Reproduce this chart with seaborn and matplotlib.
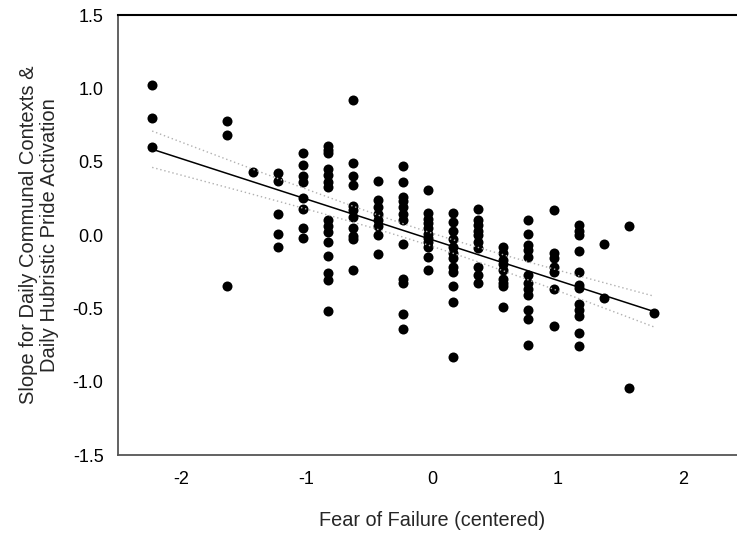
import numpy as np
import pandas as pd
import matplotlib
matplotlib.use("Agg")
import matplotlib.pyplot as plt
import seaborn as sns

# ---- data (one line per fear-of-failure level) ----
fear = (
    [-2.23] * 3 +
    [-1.63] * 3 +
    [-1.43] * 1 +
    [-1.23] * 5 +
    [-1.03] * 8 +
    [-0.83] * 15 +
    [-0.63] * 11 +
    [-0.43] * 8 +
    [-0.23] * 12 +
    [-0.03] * 11 +
    [0.17] * 12 +
    [0.37] * 10 +
    [0.57] * 9 +
    [0.77] * 12 +
    [0.97] * 7 +
    [1.17] * 12 +
    [1.37] * 2 +
    [1.57] * 2 +
    [1.77] * 1
)
slope = (
    [1.02, 0.80, 0.60] +
    [0.78, 0.68, -0.35] +
    [0.43] +
    [0.42, 0.37, 0.14, 0.01, -0.08] +
    [0.56, 0.48, 0.40, 0.36, 0.25, 0.18, 0.05, -0.02] +
    [0.61, 0.58, 0.56, 0.45, 0.41, 0.36, 0.33, 0.10, 0.06, 0.02, -0.05, -0.14, -0.26, -0.31, -0.52] +
    [0.92, 0.49, 0.40, 0.34, 0.20, 0.17, 0.12, 0.05, -0.01, -0.03, -0.24] +
    [0.37, 0.24, 0.19, 0.14, 0.10, 0.06, 0.00, -0.13] +
    [0.47, 0.36, 0.26, 0.23, 0.19, 0.14, 0.10, -0.06, -0.30, -0.33, -0.54, -0.64] +
    [0.31, 0.15, 0.11, 0.08, 0.05, 0.01, -0.02, -0.05, -0.08, -0.15, -0.24] +
    [0.15, 0.09, 0.03, -0.03, -0.08, -0.12, -0.16, -0.22, -0.25, -0.35, -0.46, -0.83] +
    [0.18, 0.10, 0.07, 0.03, 0.00, -0.05, -0.09, -0.22, -0.27, -0.33] +
    [-0.08, -0.12, -0.17, -0.20, -0.24, -0.30, -0.33, -0.35, -0.49] +
    [0.10, 0.01, -0.07, -0.10, -0.15, -0.27, -0.33, -0.37, -0.41, -0.51, -0.57, -0.75] +
    [0.17, -0.12, -0.16, -0.22, -0.25, -0.37, -0.62] +
    [0.07, 0.03, 0.00, -0.11, -0.25, -0.34, -0.36, -0.47, -0.51, -0.55, -0.67, -0.76] +
    [-0.06, -0.43] +
    [0.06, -1.04] +
    [-0.53]
)
x_ticks = [-2, -1, 0, 1, 2]
y_ticks = [-1.5, -1.0, -0.5, 0.0, 0.5, 1.0, 1.5]
y_ticklabels = ["-1.5", "-1.0", "-0.5", "0.0", "0.5", "1.0", "1.5"]
x_label = "Fear of Failure (centered)"
y_label = "Slope for Daily Communal Contexts &\nDaily Hubristic Pride Activation"

df = pd.DataFrame({"fear": fear, "slope": slope})

sns.set_style("white")
plt.rcParams["font.family"] = ["Liberation Sans", "DejaVu Sans"]

fig = plt.figure(figsize=(7.37, 5.34), dpi=100)
ax = fig.add_axes([0.1605, 0.1479, 0.851, 0.824])

sns.regplot(data=df, x="fear", y="slope", ax=ax, ci=None, truncate=True,
            scatter_kws=dict(s=52, color="black", linewidths=0, alpha=1),
            line_kws=dict(color="black", linewidth=1.1))

# 95% confidence limits of the fitted line, drawn as dotted lines
x = df["fear"].to_numpy()
y = df["slope"].to_numpy()
n = len(x)
b1, b0 = np.polyfit(x, y, 1)
resid = y - (b0 + b1 * x)
s = np.sqrt(np.sum(resid ** 2) / (n - 2))
xbar = x.mean()
sxx = np.sum((x - xbar) ** 2)
xs = np.linspace(x.min(), x.max(), 100)
fit = b0 + b1 * xs
se = s * np.sqrt(1.0 / n + (xs - xbar) ** 2 / sxx)
tcrit = 1.977
ax.plot(xs, fit + tcrit * se, color="#b0b0b0", linewidth=1.0, linestyle=(0, (1, 2)))
ax.plot(xs, fit - tcrit * se, color="#b0b0b0", linewidth=1.0, linestyle=(0, (1, 2)))

ax.set_xlim(-2.5, 2.5)
ax.set_ylim(-1.5, 1.5)
ax.set_xticks(x_ticks)
ax.set_xticklabels([str(t) for t in x_ticks])
ax.set_yticks(y_ticks)
ax.set_yticklabels(y_ticklabels)

ax.set_xlabel(x_label, fontsize=14.3, labelpad=17)
ax.set_ylabel(y_label, fontsize=14.5, labelpad=10, linespacing=1.1)

for side in ["left", "bottom"]:
    ax.spines[side].set_color("#555555")
    ax.spines[side].set_linewidth(1.3)
ax.spines["top"].set_color("black")
ax.spines["top"].set_linewidth(1.5)
ax.spines["right"].set_visible(False)

ax.tick_params(axis="both", direction="out", length=4.8, width=1.1,
               color="#555555", labelsize=13, labelcolor="black")
ax.tick_params(axis="x", pad=6.5)
ax.tick_params(axis="y", pad=5.8)
ax.set_facecolor("white")
fig.patch.set_facecolor("white")

fig.savefig("out.png", dpi=100)
